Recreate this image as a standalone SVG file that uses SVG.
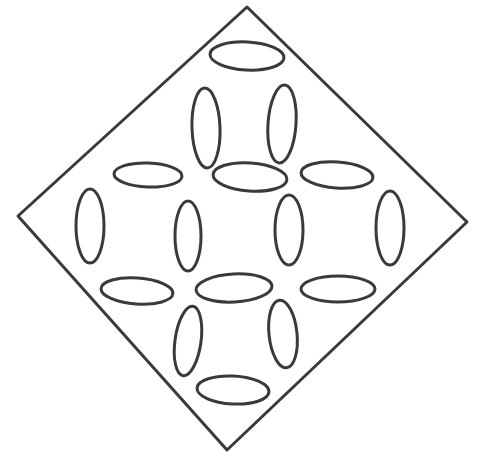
<svg xmlns="http://www.w3.org/2000/svg" width="477" height="457" viewBox="0 0 477 457">
<style>
.s{fill:none;stroke:#3a3a3a;stroke-width:3;stroke-linejoin:round}
.e{fill:none;stroke:#3a3a3a;stroke-width:3}
</style>
<rect width="477" height="457" fill="#ffffff"/>
<g id="diamond">
<polygon class="s" points="247,7 467,222 227,450 18,216"/>
</g>
<g id="ovals">
<ellipse class="e" cx="247" cy="56" rx="37" ry="14" transform="rotate(3 247 56)"/>
<ellipse class="e" cx="206" cy="128" rx="14" ry="40" transform="rotate(-2 206 128)"/>
<ellipse class="e" cx="282" cy="124" rx="14" ry="39" transform="rotate(4 282 124)"/>
<ellipse class="e" cx="148" cy="175" rx="34" ry="12" transform="rotate(2 148 175)"/>
<ellipse class="e" cx="250" cy="177" rx="37" ry="14" transform="rotate(4 250 177)"/>
<ellipse class="e" cx="337" cy="175" rx="36" ry="13" transform="rotate(4 337 175)"/>
<ellipse class="e" cx="90" cy="226" rx="14" ry="37"/>
<ellipse class="e" cx="188" cy="236" rx="13" ry="35"/>
<ellipse class="e" cx="289" cy="230" rx="14" ry="35"/>
<ellipse class="e" cx="390" cy="228" rx="14" ry="37"/>
<ellipse class="e" cx="137" cy="291" rx="36" ry="13" transform="rotate(4 137 291)"/>
<ellipse class="e" cx="234" cy="288" rx="38" ry="14" transform="rotate(-3 234 288)"/>
<ellipse class="e" cx="338" cy="289" rx="37" ry="13"/>
<ellipse class="e" cx="188" cy="341" rx="13" ry="35" transform="rotate(8 188 341)"/>
<ellipse class="e" cx="283" cy="334" rx="14" ry="34" transform="rotate(-6 283 334)"/>
<ellipse class="e" cx="233" cy="390" rx="36" ry="14" transform="rotate(3 233 390)"/>
</g>
</svg>
